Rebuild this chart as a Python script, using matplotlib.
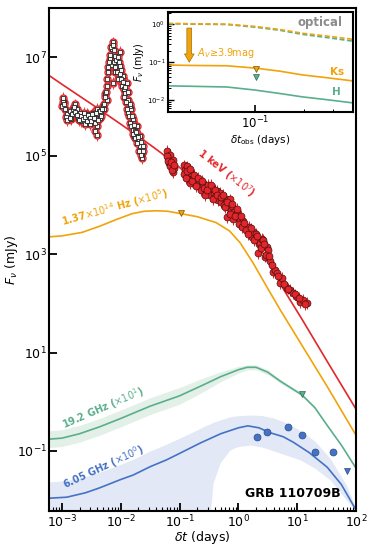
import numpy as np
import matplotlib
matplotlib.use("Agg")
import matplotlib.pyplot as plt
from matplotlib.ticker import NullLocator, FixedLocator, NullFormatter, LogFormatterSciNotation

# ---------------- data (log10 values) ----------------
# BAT early X-ray (1 keV x1e7)
bat_logt = [-2.98, -3.00, -2.95, -2.89, -2.84, -2.78, -2.75, -2.69, -2.72, -2.64, -2.67, -2.58, -2.55,
            -2.52, -2.47, -2.41, -2.38, -2.35, -2.41, -2.44, -2.41, -2.33, -2.30, -2.24, -2.24, -2.21,
            -2.18, -2.15, -2.13, -2.10, -2.10, -2.13, -2.07, -2.04, -2.01, -2.01, -1.98, -1.96, -1.93,
            -1.90, -1.90, -1.87, -1.87, -1.84, -1.82, -1.79, -1.79, -1.77, -1.73, -1.70, -1.67, -1.67,
            -1.64, -1.62, -1.64, -2.92, -2.86, -2.81, -2.62, -2.50, -2.45, -2.28, -2.26, -2.16, -1.95,
            -1.85, -1.75, -2.97, -2.70, -2.60, -2.37,
            -2.99, -2.96, -2.93, -2.91, -2.87, -2.83, -2.80, -2.77, -2.74, -2.71, -2.68, -2.65, -2.63,
            -2.61, -2.57, -2.56, -2.53, -2.51, -2.49, -2.46, -2.43, -2.42, -2.39, -2.36, -2.34, -2.32,
            -2.29, -2.27, -2.25, -2.23, -2.22, -2.20, -2.19, -2.17, -2.14, -2.12, -2.11, -2.09, -2.08,
            -2.06, -2.05, -2.03, -2.02, -2.00, -1.99, -1.97, -1.95, -1.94, -1.92, -1.91, -1.89, -1.88,
            -1.86, -1.85, -1.83, -1.81, -1.80, -1.78, -1.76, -1.74, -1.72, -1.71, -1.69, -1.66, -1.65,
            -1.63]
bat_logf = [6.18, 6.01, 5.94, 5.80, 5.74, 6.04, 5.94, 5.87, 5.77, 5.80, 5.70, 5.84, 5.74,
            5.64, 5.87, 5.94, 5.84, 5.77, 5.60, 5.50, 5.41, 5.87, 6.01, 6.14, 6.42, 6.69,
            6.96, 7.16, 7.30, 7.03, 6.69, 6.48, 6.82, 6.55, 7.10, 6.82, 6.42, 6.62, 6.28,
            6.08, 6.48, 5.87, 6.14, 5.67, 5.94, 5.53, 5.74, 5.40, 5.60, 5.33, 5.19, 5.40,
            5.06, 5.19, 4.96, 5.85, 5.90, 5.95, 5.70, 5.75, 5.78, 5.95, 6.25, 6.85, 6.35,
            6.00, 5.50, 6.10, 5.80, 5.65, 5.90,
            6.10, 6.05, 5.78, 5.72, 5.76, 5.85, 5.98, 5.88, 5.82, 5.72, 5.80, 5.74, 5.86,
            5.78, 5.70, 5.82, 5.76, 5.70, 5.84, 5.76, 5.66, 5.86, 5.72, 5.90, 5.80, 5.94,
            6.05, 6.20, 6.30, 6.55, 6.80, 6.90, 7.05, 7.20, 7.25, 7.15, 6.90, 6.80, 6.95,
            6.70, 7.00, 6.90, 6.65, 6.55, 6.75, 6.50, 6.35, 6.20, 6.40, 6.10, 5.95, 6.30,
            5.80, 6.05, 5.60, 5.80, 5.45, 5.62, 5.35, 5.48, 5.25, 5.38, 5.10, 5.28, 5.02,
            5.10]

# XRT X-ray (1 keV x1e7)
xrt_logt = [-1.22, -1.20, -1.18, -1.16, -1.14, -1.12, -1.11, -1.09, -0.93, -0.90, -0.88, -0.86, -0.84,
            -0.82, -0.80, -0.78, -0.70, -0.67, -0.65, -0.63, -0.60, -0.58, -0.55, -0.52, -0.50, -0.48,
            -0.45, -0.42, -0.40, -0.37, -0.35, -0.33, -0.31, -0.29, -0.27, -0.24, -0.21, -0.19, -0.18,
            -0.16, -0.14, -0.12, -0.10, -0.09, -0.07, -0.04, -0.02, 0.00, 0.03, 0.05, 0.08, 0.12, 0.15,
            0.18, 0.20, 0.23, 0.25, 0.30, 0.33, 0.35, 0.37, 0.40, 0.42, 0.45, 0.48, 0.50, 0.54, 0.59,
            0.62, 0.65, 0.71, 0.74, 0.82, 0.88, 0.93, 0.99, 1.05, 1.10, 1.16,
            -1.21, -1.19, -1.17, -1.15, -1.13, -1.10, -0.92, -0.89, -0.87, -0.83, -0.79, -0.76, -0.72,
            -0.68, -0.62, -0.57, -0.53, -0.47, -0.43, -0.39, -0.36, -0.30, -0.26, -0.22, -0.20, -0.15,
            -0.11, -0.06, -0.03, 0.01, 0.04, 0.07, 0.10, 0.13, 0.17, 0.21, 0.27, 0.32, 0.39, 0.44,
            0.47, 0.52, 0.57, 0.68, 0.78, 0.85, 0.96, 1.03, 1.13]
xrt_logf = [5.09, 4.95, 4.86, 5.02, 4.80, 4.92, 4.66, 4.74, 4.80, 4.70, 4.78, 4.60, 4.52,
            4.45, 4.65, 4.55, 4.50, 4.42, 4.37, 4.30, 4.45, 4.35, 4.25, 4.40, 4.31, 4.20,
            4.35, 4.22, 4.15, 4.28, 4.10, 4.22, 4.25, 4.05, 4.15, 4.00, 4.12, 3.76, 3.95,
            4.05, 4.11, 3.90, 3.98, 3.72, 3.85, 3.80, 3.84, 3.75, 3.70, 3.62, 3.68, 3.58, 3.50,
            3.56, 3.45, 3.35, 3.44, 3.40, 3.03, 3.20, 3.23, 3.31, 3.29, 2.95, 3.15, 3.09, 2.85, 2.64,
            2.68, 2.62, 2.42, 2.52, 2.32, 2.27, 2.21, 2.13, 2.03, 2.07, 2.01,
            5.00, 4.90, 4.78, 4.88, 4.70, 4.82, 4.62, 4.55, 4.68, 4.72, 4.48, 4.60, 4.38,
            4.55, 4.48, 4.20, 4.30, 4.40, 4.12, 4.30, 4.20, 4.15, 4.20, 3.95, 4.05, 3.82,
            4.02, 3.78, 3.92, 3.62, 3.78, 3.55, 3.64, 3.48, 3.40, 3.52, 3.28, 3.36, 3.12, 3.20,
            2.98, 2.96, 2.78, 2.55, 2.40, 2.30, 2.18, 2.10, 1.98]
xray_err_dex = 0.12

# model curves
xray_mod_logt = [-3.22, -3.0, -2.5, -2.0, -1.5, -1.33, -1.0, -0.5, -0.2, 0.0, 0.25, 0.5, 0.76, 1.1, 1.5, 2.0]
xray_mod_logf = [6.63, 6.45, 6.05, 5.64, 5.22, 5.07, 4.76, 4.25, 3.93, 3.70, 3.35, 2.86, 2.30, 1.64, 0.84, -0.15]

nir_mod_logt = [-3.22, -3.0, -2.66, -2.35, -2.08, -1.81, -1.6, -1.40, -1.2, -0.97, -0.7, -0.38, -0.15,
                0.03, 0.25, 0.5, 0.71, 1.13, 1.5, 2.0]
nir_mod_logf = [3.35, 3.37, 3.44, 3.57, 3.70, 3.82, 3.87, 3.88, 3.87, 3.82, 3.76, 3.64, 3.47,
                3.23, 2.82, 2.30, 1.87, 1.05, 0.33, -0.68]

r19_logt = [-3.22, -3.0, -2.7, -2.36, -2.0, -1.5, -1.0, -0.6, -0.3, 0.0, 0.15, 0.3, 0.5, 0.71, 1.08,
            1.3, 1.51, 1.75, 2.0]
r19_logf = [-0.76, -0.74, -0.65, -0.51, -0.34, -0.09, 0.12, 0.34, 0.51, 0.65, 0.70, 0.70, 0.60, 0.42, 0.14,
            -0.12, -0.48, -0.88, -1.35]
r19_hi = [-0.59, -0.57, -0.48, -0.34, -0.17, 0.08, 0.29, 0.48, 0.61, 0.72, 0.75, 0.75, 0.65, 0.46, 0.17,
          -0.10, -0.47, -0.88, -1.35]
r19_lo = [-0.93, -0.91, -0.82, -0.68, -0.51, -0.26, -0.05, 0.20, 0.41, 0.58, 0.65, 0.65, 0.55, 0.38, 0.11,
          -0.14, -0.49, -0.88, -1.35]

r6_logt = [-3.22, -2.92, -2.6, -2.36, -2.0, -1.79, -1.5, -1.22, -1.0, -0.65, -0.3, 0.0, 0.16, 0.35,
           0.54, 0.76, 0.93, 1.2, 1.51, 1.75, 2.0]
r6_logf = [-1.96, -1.94, -1.85, -1.75, -1.58, -1.49, -1.32, -1.18, -1.05, -0.84, -0.65, -0.53, -0.49, -0.53,
           -0.63, -0.71, -0.82, -1.03, -1.33, -1.68, -2.20]
r6_band_logt = [-3.22, -2.92, -2.6, -2.36, -2.0, -1.79, -1.5, -1.22, -1.0, -0.75, -0.55, -0.48, -0.43, -0.31,
                -0.15, -0.06, 0.05, 0.2, 0.4, 0.6, 0.8, 1.05, 1.3, 1.56, 1.84, 2.0]
r6_hi = [-1.63, -1.60, -1.52, -1.43, -1.27, -1.17, -1.00, -0.86, -0.74, -0.60, -0.48, -0.45, -0.42, -0.37,
         -0.31, -0.29, -0.28, -0.27, -0.28, -0.33, -0.42, -0.58, -0.80, -1.15, -1.70, -2.18]
r6_lo = [-4.0, -4.0, -4.0, -4.0, -4.0, -4.0, -4.0, -4.0, -4.0, -4.0, -3.2, -2.3, -1.65, -1.24,
         -0.99, -0.93, -0.90, -0.88, -0.92, -1.00, -1.08, -1.18, -1.35, -1.59, -2.0, -2.22]

# radio detections 6.05 GHz
r6_det_logt = [0.32, 0.48, 0.84, 1.08, 1.30, 1.61]
r6_det_logf = [-0.71, -0.61, -0.51, -0.67, -1.02, -1.02]
# upper limits
ul_nir = (-0.97, 3.84)
ul_r19 = (1.08, 0.16)
ul_r6 = (1.84, -1.41)

# inset
ins_logt = [-1.53, -1.4, -1.17, -1.0, -0.85, -0.71, -0.55, -0.40]
ins_opt_ks = [0.02, 0.01, 0.0, -0.06, -0.14, -0.24, -0.32, -0.40]
ins_opt_h = [0.01, 0.0, -0.01, -0.08, -0.16, -0.27, -0.36, -0.45]
ins_ks = [-1.08, -1.09, -1.10, -1.16, -1.24, -1.34, -1.42, -1.50]
ins_h = [-1.63, -1.64, -1.66, -1.74, -1.83, -1.92, -2.00, -2.08]
ins_ul_ks = (-0.99, -1.18)
ins_ul_h = (-0.99, -1.39)
ins_arrow = (-1.40, -0.03, -1.08)

# ---------------- styling ----------------
RED = '#e3262b'
ORANGE = '#f0a30a'
GREEN = '#5aae8c'
BLUE = '#4472c4'
P = lambda v: 10 ** np.asarray(v, dtype=float)

fig = plt.figure(figsize=(3.74, 5.48), dpi=100)
ax = fig.add_axes([49 / 374, 37 / 548, 307 / 374, 503 / 548])
ax.set_xscale('log')
ax.set_yscale('log')

# bands
ax.fill_between(P(r6_band_logt), P(r6_lo), P(r6_hi), color='#e2e8f5', lw=0, zorder=1)
ax.fill_between(P(r19_logt), P(r19_lo), P(r19_hi), color='#e2f0e8', lw=0, zorder=1)

# model lines
ax.plot(P(xray_mod_logt), P(xray_mod_logf), color=RED, lw=1.2, zorder=2)
ax.plot(P(nir_mod_logt), P(nir_mod_logf), color=ORANGE, lw=1.2, zorder=2)
ax.plot(P(r19_logt), P(r19_logf), color=GREEN, lw=1.2, zorder=2)
ax.plot(P(r6_logt), P(r6_logf), color=BLUE, lw=1.2, zorder=2)

# X-ray data
def errs(logf):
    f = P(logf)
    return [f * (1 - 10 ** -xray_err_dex), f * (10 ** xray_err_dex - 1)]

ax.errorbar(P(bat_logt), P(bat_logf), yerr=errs(bat_logf), fmt='o', ms=5, mfc='white', mec=RED,
            mew=1.0, ecolor=RED, elinewidth=0.6, capsize=0, zorder=4)
ax.plot(P(bat_logt), P(bat_logf), 's', ms=2.4, mfc='#f4f4f4', mec='#222222', mew=0.6, zorder=5)
ax.errorbar(P(xrt_logt), P(xrt_logf), yerr=errs(xrt_logf), fmt='o', ms=5, mfc=RED, mec='#4a1010',
            mew=0.5, ecolor=RED, elinewidth=0.7, capsize=0, zorder=4)

# radio data
ax.plot(P(r6_det_logt), P(r6_det_logf), 'o', ms=5, mfc=BLUE, mec='#2b4c8c', mew=0.5, zorder=4)
ax.plot(P(ul_r6[0]), P(ul_r6[1]), 'v', ms=5, mfc=BLUE, mec='#2b4c8c', mew=0.5, zorder=4)
ax.plot(P(ul_r19[0]), P(ul_r19[1]), 'v', ms=5, mfc=GREEN, mec='#2e6b52', mew=0.5, zorder=4)
ax.plot(P(ul_nir[0]), P(ul_nir[1]), 'v', ms=5, mfc=ORANGE, mec='#7a5200', mew=0.5, zorder=4)

# labels on curves
ax.text(P(-0.20), P(4.64), '1 keV ($\\times10^{7}$)', color=RED, fontsize=7, fontweight='bold',
        rotation=-38, ha='center', va='center')
ax.text(P(-2.10), P(3.95), '1.37$\\times10^{14}$ Hz ($\\times10^{5}$)', color=ORANGE, fontsize=7,
        fontweight='bold', rotation=15.5, ha='center', va='center')
ax.text(P(-2.30), P(-0.13), '19.2 GHz ($\\times10^{1}$)', color=GREEN, fontsize=7, fontweight='bold',
        rotation=23.5, ha='center', va='center')
ax.text(P(-2.30), P(-1.33), '6.05 GHz ($\\times10^{0}$)', color=BLUE, fontsize=7, fontweight='bold',
        rotation=25, ha='center', va='center')
ax.text(P(0.93), P(-1.86), 'GRB 110709B', color='black', fontsize=9, fontweight='bold',
        ha='center', va='center')

ax.set_xlim(P(-3.22), P(2.0))
ax.set_ylim(P(-2.22), P(8.0))
ax.set_xticks(P([-3, -2, -1, 0, 1, 2]))
ax.xaxis.set_minor_locator(FixedLocator([m * 10.0 ** e for e in range(-4, 2) for m in range(2, 10)]))
ax.xaxis.set_minor_formatter(NullFormatter())
ax.set_yticks(P([-1, 1, 3, 5, 7]))
ax.yaxis.set_minor_locator(NullLocator())
ax.tick_params(which='both', direction='in', top=False, right=False, labelsize=9)
ax.tick_params(which='major', length=6, width=1.3)
ax.tick_params(which='minor', length=3, width=0.8)
ax.tick_params(axis='y', which='major', pad=1.5)
ax.tick_params(axis='x', which='major', pad=2)
for s in ax.spines.values():
    s.set_linewidth(1.5)
ax.set_xlabel('$\\delta t$ (days)', fontsize=9, labelpad=-1)
ax.set_ylabel('$F_\\nu$ (mJy)', fontsize=9, labelpad=-2)

# ---------------- inset ----------------
ins = fig.add_axes([168 / 374, (548 - 112) / 548, 185 / 374, 100 / 548])
ins.set_xscale('log')
ins.set_yscale('log')
ins.plot(P(ins_logt), P(ins_opt_h), color=GREEN, lw=1.2, ls='--', dashes=(3, 1.5))
ins.plot(P(ins_logt), P(ins_opt_ks), color=ORANGE, lw=1.2, ls='--', dashes=(3, 1.5))
ins.plot(P(ins_logt), P(ins_ks), color=ORANGE, lw=1.2)
ins.plot(P(ins_logt), P(ins_h), color=GREEN, lw=1.2)
ins.plot(P(ins_ul_ks[0]), P(ins_ul_ks[1]), 'v', ms=5, mfc=ORANGE, mec='#7a5200', mew=0.5, zorder=4)
ins.plot(P(ins_ul_h[0]), P(ins_ul_h[1]), 'v', ms=5, mfc=GREEN, mec='#2e6b52', mew=0.5, zorder=3)
ins.annotate('', xy=(P(ins_arrow[0]), P(ins_arrow[2])), xytext=(P(ins_arrow[0]), P(ins_arrow[1])),
             arrowprops=dict(arrowstyle='simple,head_width=0.7,head_length=0.6,tail_width=0.35',
                             fc=ORANGE, ec='#8a6000', lw=0.4))
ins.text(P(-1.35), P(-0.76), '$A_V$≥3.9mag', color=ORANGE, fontsize=7, ha='left', va='center')
ins.text(P(-0.60), P(0.03), 'optical', color='#8c8c8c', fontsize=8.5, fontweight='bold',
         ha='center', va='center')
ins.text(P(-0.50), P(-1.26), 'Ks', color=ORANGE, fontsize=7.5, fontweight='bold', ha='center', va='center')
ins.text(P(-0.50), P(-1.80), 'H', color=GREEN, fontsize=7.5, fontweight='bold', ha='center', va='center')

ins.set_xlim(P(-1.53), P(-0.40))
ins.set_ylim(P(-2.32), P(0.32))
ins.set_xticks([0.1])
ins.xaxis.set_major_formatter(LogFormatterSciNotation())
ins.xaxis.set_minor_locator(FixedLocator([0.04, 0.2, 0.3]))
ins.xaxis.set_minor_formatter(NullFormatter())
ins.set_yticks([1.0, 0.1, 0.01])
ins.yaxis.set_minor_locator(FixedLocator([m * 10.0 ** e for e in range(-3, 1) for m in range(2, 10)]))
ins.yaxis.set_minor_formatter(NullFormatter())
ins.tick_params(which='both', direction='in', top=False, right=False)
ins.tick_params(axis='x', which='major', labelsize=8.5, length=5, width=1.2, pad=2)
ins.tick_params(axis='y', which='major', labelsize=5, length=4, width=1.0, pad=2)
ins.tick_params(which='minor', length=2.5, width=0.7)
for s in ins.spines.values():
    s.set_linewidth(1.5)
ins.set_xlabel('$\\delta t_{\\rm obs}$ (days)', fontsize=7.5, labelpad=1)
ins.set_ylabel('$F_\\nu$ (mJy)', fontsize=7, labelpad=1)

fig.savefig('out.png', dpi=100)
